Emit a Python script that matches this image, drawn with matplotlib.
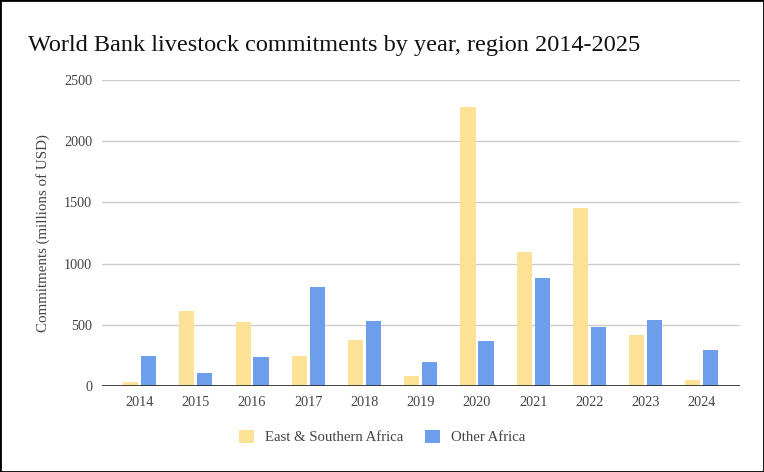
import matplotlib.pyplot as plt
import numpy as np
from matplotlib.patches import Rectangle

# ── Data ─────────────────────────────────────────────────────────────────────
YEARS = ['2014', '2015', '2016', '2017', '2018', '2019',
         '2020', '2021', '2022', '2023', '2024']
EAST_SOUTHERN = [30, 616, 524, 246, 378, 84, 2283, 1092, 1454, 419, 49]
OTHER_AFRICA  = [246, 103, 235, 811, 532, 195, 370, 881, 481, 543, 297]
Y_TICKS = [0, 500, 1000, 1500, 2000, 2500]

YELLOW = '#FCE196'
BLUE   = '#6D9EEB'
SERIF  = ['Liberation Serif', 'DejaVu Serif']

fig = plt.figure(figsize=(7.64, 4.72), dpi=100)
ax = fig.add_axes([102 / 764, 86 / 472, 638 / 764, 306 / 472])

x = np.arange(len(YEARS))
w = 0.267
off = 0.16
ax.bar(x - off, EAST_SOUTHERN, width=w, color=YELLOW,
       label='East & Southern Africa', zorder=2)
ax.bar(x + off, OTHER_AFRICA, width=w, color=BLUE,
       label='Other Africa', zorder=2)

# google-style padding on both sides of the category axis
ax.set_xlim(-0.667, len(YEARS) - 1 + 0.676)
ax.set_ylim(0, 2500)
ax.set_yticks(Y_TICKS)
ax.set_xticks(x)
ax.set_xticklabels(YEARS)
ax.tick_params(length=0, labelsize=10.3, labelcolor='#444444', pad=7)
for lab in ax.get_xticklabels() + ax.get_yticklabels():
    lab.set_family(SERIF)

ax.grid(axis='y', color='#cccccc', linewidth=1, zorder=0)
ax.axhline(0, color='#333333', linewidth=1.3, zorder=3)
for s in ax.spines.values():
    s.set_visible(False)

ax.set_ylabel('Commitments (millions of USD)', family=SERIF, fontsize=10.8,
              color='#444444', labelpad=10)

fig.text(28 / 764, 1 - 45 / 472,
         'World Bank livestock commitments by year, region 2014-2025',
         family=SERIF, fontsize=17.5, color='#111111', va='center', ha='left')

leg = fig.legend(loc='center', bbox_to_anchor=(0.5, 1 - 437 / 472), ncol=2,
                 frameon=False, prop={'family': SERIF, 'size': 10.6},
                 handlelength=1.03, handleheight=1.03, columnspacing=1.45,
                 handletextpad=0.75)
for t in leg.get_texts():
    t.set_color('#444444')

fig.patches.append(Rectangle((0, 0), 1, 1, transform=fig.transFigure,
                             fill=False, edgecolor='black', linewidth=2))

fig.savefig('out.png', dpi=100)
